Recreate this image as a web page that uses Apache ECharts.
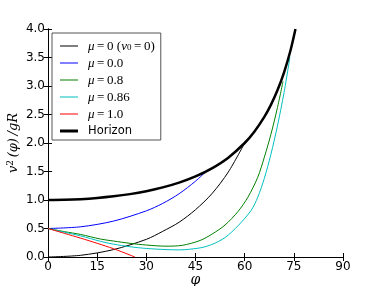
<!DOCTYPE html>
<html><head><meta charset="utf-8">
<script src="https://cdn.jsdelivr.net/npm/echarts@6/dist/echarts.min.js"></script>
<style>html,body{margin:0;padding:0;background:#fff}#c{width:382px;height:286px}</style>
</head><body><div id="c"></div>
<script>
// ---- data ----
const xTicks = [0, 15, 30, 45, 60, 75, 90];
const yTicks = [0.0, 0.5, 1.0, 1.5, 2.0, 2.5, 3.0, 3.5, 4.0];
const seriesNames = ['mu0v0', 'mu00', 'mu08', 'mu086', 'mu10', 'Horizon'];
const mu0v0 = [[0,0],[10,0.03],[20,0.13],[30,0.31],[35,0.45],[40,0.61],[45,0.83],[50,1.11],[55,1.49],[60,2.0]];
const mu00 = [[0,0.5],[10,0.53],[20,0.63],[30,0.81],[35,0.94],[40,1.11],[45,1.33],[48.2,1.5]];
const mu08 = [[0,0.5],[5,0.445],[10,0.395],[16,0.315],[20,0.28],[25,0.24],[30,0.21],[36,0.19],[41,0.205],[46.4,0.29],[50,0.40],[54,0.56],[58,0.80],[61,1.05],[64,1.40],[66,1.75],[68,2.15],[70,2.62],[71.7,3.08]];
const mu086 = [[0,0.5],[5,0.435],[10,0.37],[16,0.275],[20,0.225],[25,0.18],[30,0.15],[36,0.13],[40,0.125],[46.4,0.16],[50,0.22],[54,0.34],[58,0.55],[62,0.82],[64,1.05],[66,1.38],[68,1.80],[70,2.3],[72,2.88],[73.8,3.5]];
const mu10 = [[0,0.5],[5,0.415],[10,0.33],[15,0.24],[20,0.145],[25,0.035],[26.5,0.0]];
const horizon = [[0,1.0],[5,1.004],[10,1.015],[15,1.035],[20,1.064],[25,1.103],[30,1.155],[35,1.221],[40,1.305],[45,1.414],[50,1.556],[55,1.743],[60,2.0],[63,2.203],[66,2.459],[68,2.669],[70,2.924],[72,3.236],[74,3.628],[75.5,4.0]];

const colors = {mu0v0: '#000000', mu00: '#0000ff', mu08: '#008000', mu086: '#00bfbf', mu10: '#ff0000', Horizon: '#000000'};
const T = '\u2009';
const legendText = {
  mu0v0: '{i|μ}{n|' + T + '=' + T + '0 (}{i|v}{s|0}{n|' + T + '=' + T + '0)}',
  mu00: '{i|μ}{n|' + T + '=' + T + '0.0}',
  mu08: '{i|μ}{n|' + T + '=' + T + '0.8}',
  mu086: '{i|μ}{n|' + T + '=' + T + '0.86}',
  mu10: '{i|μ}{n|' + T + '=' + T + '1.0}',
  Horizon: '{h|Horizon}'
};
// legend swatch shapes (bar inside an 18x11 box; tiny corner marks keep the box size)
const thinIcon = 'path://M0,0L18,0L18,0.01ZM0,4.5H18V5.5H0ZM0,11L18,11L18,11.01Z';
const thickIcon = 'path://M0,0L18,0L18,0.01ZM0,4H18V7H0ZM0,11L18,11L18,11.01Z';

const chart = echarts.init(document.getElementById('c'), null, {renderer: 'canvas'});
const axisCommon = {
  axisLine: {show: true, lineStyle: {color: '#000', width: 1}},
  axisTick: {show: true, inside: true, length: 4, lineStyle: {color: '#000'}},
  splitLine: {show: false}
};
const tickFont = {color: '#000', fontSize: 12, fontFamily: 'DejaVu Sans'};
function mk(name, data, width) {
  const color = colors[name];
  return {name, type: 'line', data, showSymbol: false, symbol: 'none', smooth: 0.3,
    lineStyle: {color, width}, itemStyle: {color}, emphasis: {disabled: true}, z: width > 1 ? 3 : 2};
}
chart.setOption({
  animation: false,
  grid: {left: 48, right: 39, top: 29, bottom: 29, containLabel: false, outerBoundsMode: 'none'},
  xAxis: [
    Object.assign({type: 'value', min: 0, max: 90, interval: 15, position: 'bottom',
      axisLabel: Object.assign({margin: 4, formatter: v => xTicks.includes(v) ? String(v) : ''}, tickFont),
      name: 'φ', nameLocation: 'middle', nameGap: 16, nameMoveOverlap: false,
      nameTextStyle: {fontFamily: 'DejaVu Serif', fontStyle: 'italic', fontSize: 14, color: '#000', verticalAlign: 'top'}}, axisCommon),
    Object.assign({type: 'value', min: 0, max: 90, interval: 15, position: 'top', axisLabel: {show: false}}, axisCommon)
  ],
  yAxis: [
    Object.assign({type: 'value', min: 0, max: 4, interval: 0.5, position: 'left',
      axisLabel: Object.assign({margin: 3, formatter: v => yTicks.includes(v) ? v.toFixed(1) : ''}, tickFont),
      name: '{a|v}{b|2}{c|' + T + '(φ)' + T + '/}{a|gR}', nameLocation: 'middle', nameGap: 26, nameRotate: 90,
      nameMoveOverlap: false,
      nameTextStyle: {color: '#000', rich: {
        a: {fontFamily: 'DejaVu Serif', fontStyle: 'italic', fontSize: 13, color: '#000'},
        b: {fontFamily: 'DejaVu Serif', fontSize: 9, verticalAlign: 'top', padding: [0,0,7,0], color: '#000'},
        c: {fontFamily: 'DejaVu Serif', fontStyle: 'italic', fontSize: 13, color: '#000'}
      }}}, axisCommon),
    Object.assign({type: 'value', min: 0, max: 4, interval: 0.5, position: 'right', axisLabel: {show: false}}, axisCommon)
  ],
  legend: {
    orient: 'vertical', left: 52, top: 33,
    data: seriesNames.map(n => ({name: n, icon: n === 'Horizon' ? thickIcon : thinIcon,
      itemStyle: {color: colors[n], borderWidth: 0, opacity: 1}})),
    itemWidth: 18, itemHeight: 11, itemGap: 4,
    padding: [4, 6, 3, 8],
    borderColor: '#555', borderWidth: 1, backgroundColor: '#fff',
    selectedMode: false,
    formatter: n => legendText[n],
    textStyle: {color: '#000', padding: [0, 0, 0, 5], lineHeight: 11, rich: {
      i: {fontFamily: 'Liberation Serif', fontStyle: 'italic', fontSize: 13, lineHeight: 11, color: '#000'},
      n: {fontFamily: 'Liberation Serif', fontSize: 13, lineHeight: 11, color: '#000'},
      s: {fontFamily: 'Liberation Serif', fontSize: 9, lineHeight: 11, verticalAlign: 'bottom', padding: [6,0,0,0], color: '#000'},
      h: {fontFamily: 'DejaVu Sans', fontSize: 11.5, lineHeight: 11, color: '#000'}
    }}
  },
  series: [
    mk('mu0v0', mu0v0, 1),
    mk('mu00', mu00, 1),
    mk('mu08', mu08, 1),
    mk('mu086', mu086, 1),
    mk('mu10', mu10, 1),
    mk('Horizon', horizon, 2.5)
  ]
});
</script></body></html>
